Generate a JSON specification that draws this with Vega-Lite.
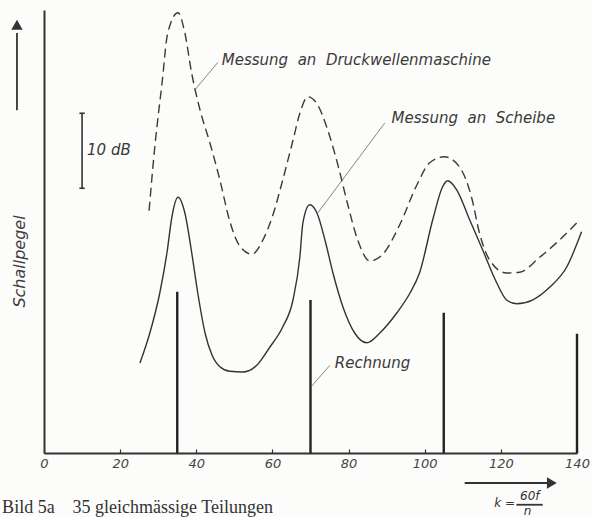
{
  "$schema": "https://vega.github.io/schema/vega-lite/v6.json",
  "width": 533,
  "height": 443,
  "autosize": "none",
  "padding": {"left": 44, "top": 10, "right": 15, "bottom": 64},
  "background": "#fcfcfb",
  "config": {"view": {"stroke": null}, "font": "DejaVu Sans"},
  "datasets": {
    "druck": [
      {"x": 27.6, "y": 32.3}, {"x": 29.1, "y": 40.8}, {"x": 31.0, "y": 49.3}, {"x": 32.5, "y": 56.0},
      {"x": 35.2, "y": 58.7}, {"x": 37.0, "y": 56.0}, {"x": 38.8, "y": 50.6}, {"x": 40.9, "y": 45.9},
      {"x": 43.6, "y": 41.3}, {"x": 46.2, "y": 36.4}, {"x": 48.8, "y": 30.9}, {"x": 51.4, "y": 27.6},
      {"x": 54.6, "y": 26.5}, {"x": 57.5, "y": 28.4}, {"x": 60.1, "y": 31.7}, {"x": 62.7, "y": 36.4},
      {"x": 65.4, "y": 41.7}, {"x": 67.2, "y": 45.3}, {"x": 69.3, "y": 47.5}, {"x": 71.9, "y": 46.4},
      {"x": 74.5, "y": 43.1}, {"x": 77.2, "y": 38.4}, {"x": 79.8, "y": 33.1}, {"x": 82.4, "y": 28.4},
      {"x": 85.6, "y": 25.6}, {"x": 89.0, "y": 26.5}, {"x": 93.4, "y": 30.4}, {"x": 97.9, "y": 35.7},
      {"x": 101.3, "y": 38.7}, {"x": 105.2, "y": 39.5}, {"x": 109.2, "y": 38.1}, {"x": 112.3, "y": 34.1},
      {"x": 114.4, "y": 29.3}, {"x": 117.1, "y": 25.7}, {"x": 121.5, "y": 24.0}, {"x": 124.9, "y": 24.1},
      {"x": 130.2, "y": 26.1}, {"x": 135.4, "y": 28.4}, {"x": 140.7, "y": 31.1}
    ],
    "scheibe": [
      {"x": 25.2, "y": 12.0}, {"x": 27.8, "y": 16.0}, {"x": 30.4, "y": 21.3}, {"x": 32.3, "y": 26.7},
      {"x": 33.6, "y": 31.5}, {"x": 35.2, "y": 34.1}, {"x": 37.0, "y": 32.0}, {"x": 38.8, "y": 26.7},
      {"x": 40.4, "y": 21.3}, {"x": 42.3, "y": 16.0}, {"x": 44.1, "y": 13.1}, {"x": 46.2, "y": 11.5},
      {"x": 48.8, "y": 10.9}, {"x": 52.2, "y": 10.8}, {"x": 55.9, "y": 11.7}, {"x": 59.3, "y": 14.1},
      {"x": 62.7, "y": 16.8}, {"x": 65.4, "y": 20.4}, {"x": 67.2, "y": 26.1}, {"x": 68.0, "y": 30.7},
      {"x": 69.8, "y": 33.1}, {"x": 71.7, "y": 32.0}, {"x": 73.8, "y": 28.4}, {"x": 75.9, "y": 24.0},
      {"x": 78.5, "y": 19.5}, {"x": 81.6, "y": 16.0}, {"x": 84.8, "y": 14.7}, {"x": 88.2, "y": 16.0},
      {"x": 92.7, "y": 18.7}, {"x": 96.1, "y": 21.3}, {"x": 98.7, "y": 24.1}, {"x": 102.1, "y": 31.1},
      {"x": 104.7, "y": 35.5}, {"x": 106.0, "y": 36.3}, {"x": 108.4, "y": 35.1}, {"x": 111.8, "y": 31.1},
      {"x": 115.2, "y": 27.1}, {"x": 118.9, "y": 22.7}, {"x": 121.5, "y": 20.4}, {"x": 124.1, "y": 19.9},
      {"x": 128.3, "y": 20.4}, {"x": 132.8, "y": 22.1}, {"x": 137.3, "y": 24.8}, {"x": 141.2, "y": 29.5}
    ],
    "rechnung": [
      {"x": 35, "y": 21.5}, {"x": 70, "y": 20.4}, {"x": 105, "y": 18.7}, {"x": 140, "y": 15.9}
    ],
    "leaders": [
      {"x": 39.6, "y": 48.4, "x2": 45.7, "y2": 52.1},
      {"x": 71.9, "y": 32.0, "x2": 89.5, "y2": 44.0},
      {"x": 70.1, "y": 8.8, "x2": 75.1, "y2": 11.7}
    ],
    "scalebar": [
      {"x": 10.0, "y": 35.3, "x2": 10.0, "y2": 45.3},
      {"x": 9.3, "y": 45.3, "x2": 10.7, "y2": 45.3},
      {"x": 9.3, "y": 35.3, "x2": 10.7, "y2": 35.3}
    ],
    "arrows": [
      {"x": -7.1, "y": 45.7, "x2": -7.1, "y2": 56.0},
      {"x": 110.5, "y": -4.0, "x2": 132.5, "y2": -4.0},
      {"x": 124.1, "y": -6.9, "x2": 131.0, "y2": -6.9}
    ],
    "heads": [
      {"x": -7.1, "y": 57.1, "dir": "up"},
      {"x": 133.4, "y": -4.0, "dir": "right"}
    ],
    "labels": [
      {"x": 46.7, "y": 52.4, "text": "Messung\u00a0\u00a0an\u00a0\u00a0Druckwellenmaschine"},
      {"x": 91.3, "y": 44.7, "text": "Messung\u00a0\u00a0an\u00a0\u00a0Scheibe"},
      {"x": 76.4, "y": 12.0, "text": "Rechnung"},
      {"x": 11.3, "y": 40.4, "text": "10\u00a0dB"}
    ],
    "formula": [
      {"x": 121.0, "y": -6.7, "text": "k ="},
      {"x": 127.6, "y": -5.8, "text": "60f"},
      {"x": 127.0, "y": -7.75, "text": "n"}
    ],
    "caption": [
      {"x": -11.0, "y": -7.4, "text": "Bild 5a\u00a0\u00a0\u00a0\u00a035 gleichmässige Teilungen"}
    ]
  },
  "layer": [
    {
      "data": {"name": "druck"},
      "mark": {"type": "line", "interpolate": "monotone", "strokeDash": [9, 5], "strokeWidth": 1.4, "color": "#3a3a3a"},
      "encoding": {
        "x": {
          "field": "x", "type": "quantitative",
          "scale": {"domain": [0, 140], "nice": false, "zero": false},
          "axis": {
            "title": null,
            "values": [0, 10, 20, 30, 40, 50, 60, 70, 80, 90, 100, 110, 120, 130, 140],
            "labelExpr": "datum.value % 20 === 0 ? datum.label : ''",
            "grid": false,
            "domainColor": "#333", "domainWidth": 2,
            "tickColor": "#333", "tickSize": -4, "tickWidth": 1.2,
            "labelFont": "DejaVu Sans", "labelFontStyle": "italic", "labelFontSize": 13,
            "labelColor": "#444", "labelPadding": 8, "labelFlush": false, "labelOverlap": false
          }
        },
        "y": {
          "field": "y", "type": "quantitative",
          "scale": {"domain": [0, 59.07], "nice": false, "zero": false},
          "axis": {
            "title": "Schallpegel",
            "labels": false, "ticks": false, "grid": false,
            "domainColor": "#333", "domainWidth": 2,
            "titleFont": "DejaVu Sans", "titleFontStyle": "italic", "titleFontWeight": "normal",
            "titleFontSize": 16, "titleColor": "#3c3c3c",
            "titleX": -25, "titleY": 251, "titleAngle": -90, "titleAlign": "center", "titleBaseline": "middle"
          }
        }
      }
    },
    {
      "data": {"name": "scheibe"},
      "mark": {"type": "line", "interpolate": "monotone", "strokeWidth": 1.4, "color": "#333"},
      "encoding": {
        "x": {"field": "x", "type": "quantitative"},
        "y": {"field": "y", "type": "quantitative"}
      }
    },
    {
      "data": {"name": "rechnung"},
      "mark": {"type": "rule", "strokeWidth": 2.4, "color": "#222"},
      "encoding": {
        "x": {"field": "x", "type": "quantitative"},
        "y": {"field": "y", "type": "quantitative"},
        "y2": {"datum": 0}
      }
    },
    {
      "data": {"name": "leaders"},
      "mark": {"type": "rule", "strokeWidth": 0.8, "color": "#666"},
      "encoding": {
        "x": {"field": "x", "type": "quantitative"},
        "y": {"field": "y", "type": "quantitative"},
        "x2": {"field": "x2"},
        "y2": {"field": "y2"}
      }
    },
    {
      "data": {"name": "scalebar"},
      "mark": {"type": "rule", "strokeWidth": 1.6, "color": "#333"},
      "encoding": {
        "x": {"field": "x", "type": "quantitative"},
        "y": {"field": "y", "type": "quantitative"},
        "x2": {"field": "x2"},
        "y2": {"field": "y2"}
      }
    },
    {
      "data": {"name": "arrows"},
      "mark": {"type": "rule", "strokeWidth": 1.8, "color": "#333"},
      "encoding": {
        "x": {"field": "x", "type": "quantitative"},
        "y": {"field": "y", "type": "quantitative"},
        "x2": {"field": "x2"},
        "y2": {"field": "y2"}
      }
    },
    {
      "data": {"name": "heads"},
      "mark": {"type": "point", "filled": true, "size": 130, "color": "#333", "opacity": 1},
      "encoding": {
        "x": {"field": "x", "type": "quantitative"},
        "y": {"field": "y", "type": "quantitative"},
        "shape": {"field": "dir", "type": "nominal", "scale": {"domain": ["up", "right"], "range": ["triangle-up", "triangle-right"]}, "legend": null}
      }
    },
    {
      "data": {"name": "labels"},
      "mark": {"type": "text", "align": "left", "baseline": "middle", "fontStyle": "italic", "fontSize": 15, "font": "DejaVu Sans", "color": "#3a3a3a"},
      "encoding": {
        "x": {"field": "x", "type": "quantitative"},
        "y": {"field": "y", "type": "quantitative"},
        "text": {"field": "text"}
      }
    },
    {
      "data": {"name": "formula"},
      "mark": {"type": "text", "align": "center", "baseline": "middle", "fontStyle": "italic", "fontSize": 12, "font": "DejaVu Sans", "color": "#333"},
      "encoding": {
        "x": {"field": "x", "type": "quantitative"},
        "y": {"field": "y", "type": "quantitative"},
        "text": {"field": "text"}
      }
    },
    {
      "data": {"name": "caption"},
      "mark": {"type": "text", "align": "left", "baseline": "middle", "fontSize": 18, "font": "Liberation Serif", "color": "#333"},
      "encoding": {
        "x": {"field": "x", "type": "quantitative"},
        "y": {"field": "y", "type": "quantitative"},
        "text": {"field": "text"}
      }
    }
  ]
}
